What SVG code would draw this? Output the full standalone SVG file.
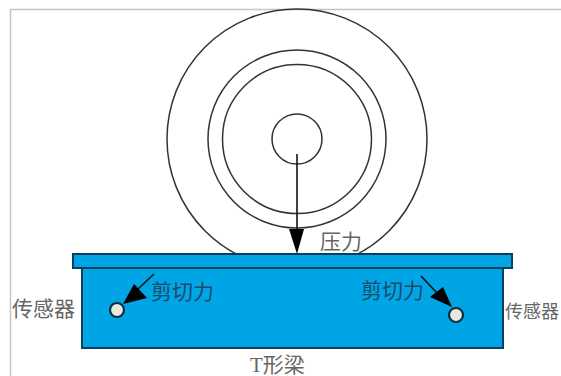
<svg xmlns="http://www.w3.org/2000/svg" width="561" height="376" viewBox="0 0 561 376">
<style>
.w{fill:none;stroke:#333;stroke-width:1.5}
.b{fill:#00a5e6;stroke:#0b3f5c;stroke-width:2}
.s{fill:#e8e8e0;stroke:#0d2f40;stroke-width:2.2}
.a{stroke:#111;stroke-width:1.6;fill:none}
.h{fill:#000;stroke:none}
text{font-family:"Liberation Serif","Noto Sans CJK SC",serif;font-size:21px}
.g{fill:#666}
.d{fill:#1a4a68}
</style>
<rect width="561" height="376" fill="#fff"/>
<g id="frame" fill="none" stroke="#c4c4c4" stroke-width="1.5"><path d="M10.500 376V9.500H561"/></g>
<g id="wheel">
<circle class="w" cx="297" cy="139" r="130"/>
<circle class="w" cx="297" cy="139" r="89"/>
<circle class="w" cx="297" cy="139" r="74.500"/>
<circle class="w" cx="297" cy="139" r="25"/>
</g>
<g id="beam">
<rect class="b" x="82" y="267" width="421" height="81"/>
<rect class="b" x="73" y="254" width="439" height="14"/>
</g>
<g id="sensor-left"><circle class="s" cx="117" cy="310" r="7"/></g>
<g id="sensor-right"><circle class="s" cx="456" cy="315" r="7"/></g>
<g id="connectors">
<path class="a" d="M297 154V232"/><polygon class="h" points="289,229 304,229 297,254"/>
<path class="a" d="M154 274L138 289"/><polygon class="h" points="134,284 147,298 123,304"/>
<path class="a" d="M421 276L437 293"/><polygon class="h" points="430,297 443,287 452,307"/>
</g>
<g id="labels">
<text class="g" x="12" y="316">传感器</text>
<text class="d" x="151" y="299">剪切力</text>
<text class="d" x="361" y="298">剪切力</text>
<text class="g" x="505" y="318" style="font-size:18px">传感器</text>
<text class="g" x="320" y="249">压力</text>
<text class="g" x="250" y="372">T形梁</text>
</g>
</svg>
